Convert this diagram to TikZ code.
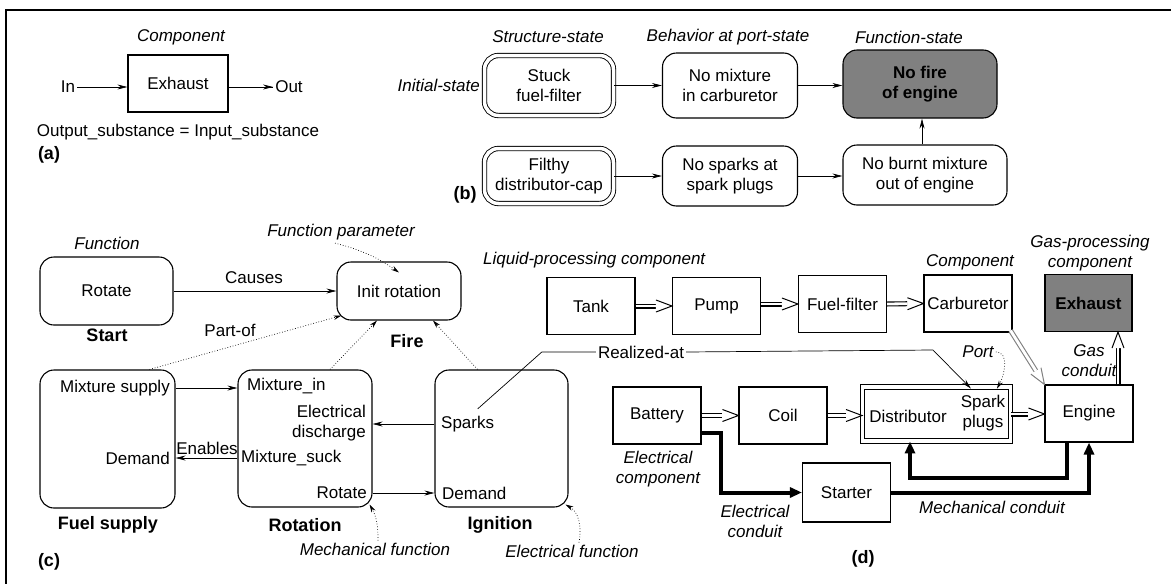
\documentclass[tikz,border=0pt]{standalone}
\usepackage{fontspec}
\setmainfont{Liberation Sans}
\usetikzlibrary{positioning,calc,arrows.meta}

\tikzset{box/.style={draw,line width=1.1pt,minimum width=88pt,minimum height=57pt,align=center}}
\tikzset{rbox/.style={draw,line width=1.1pt,rounded corners=14pt,align=center}}
\tikzset{dbox/.style={rbox,double,double distance=3.5pt,line width=0.9pt}}
\tikzset{dark/.style={fill=black!50,font=\bfseries}}
\tikzset{lbl/.style={font=\itshape}}
\tikzset{ttl/.style={font=\fontsize{18}{20}\selectfont\bfseries}}
\tikzset{flow/.style={-{Stealth[length=10pt,width=5pt]},line width=0.7pt}}
\tikzset{ptr/.style={dotted,line width=0.7pt,-{Stealth[length=8pt,width=4.5pt]}}}
\tikzset{mech/.style={line width=4pt,line join=miter,-{Triangle[length=12pt,width=10pt]}}}

% open double-shaft arrow between two points
\newcommand{\hollowarrow}[3][black]{%
  \coordinate (ha) at (#2);
  \coordinate (hb) at (#3);
  \coordinate (hc) at ($(hb)!16pt!(ha)$);
  \draw[#1,line width=1.1pt,double=white,double distance=2.8pt] (ha) -- (hc);
  \fill[white] ($(hc)!6pt!90:(hb)$) -- (hb) -- ($(hc)!6pt!-90:(hb)$) -- cycle;
  \draw[#1,line width=1pt] ($(hc)!6pt!90:(hb)$) -- (hb) -- ($(hc)!6pt!-90:(hb)$);}

\begin{document}
\fontsize{17}{20}\selectfont
\begin{tikzpicture}[x=1pt,y=-1pt,inner sep=2pt]
  \useasboundingbox (0,0) rectangle (1171,584);
  \draw[line width=1.2pt] (6,584) -- (6,10) -- (1171,10);

  % (a) component
  \node[box,minimum width=100pt] (ex) at (178,83.5) {Exhaust};
  \node[lbl] (excomp) at (181,37) {Component};
  \node (in) at (68,87) {In};
  \node (out) at (289,87) {Out};
  \draw[flow] (in.east) -- (in.east -| ex.west);
  \draw[line width=0.7pt] (ex.east |- out) -- (out.west);
  \draw[flow] ($(out.west)+(-12,0)$) -- (out.west);
  \node (eq) at (178,132) {Output\_substance = Input\_substance};
  \node[ttl] (taga) at (49,155) {(a)};

  % (b) states
  \node[dbox,minimum width=129pt,minimum height=60pt] (stuck) at (549,85.5) {Stuck\\fuel-filter};
  \node[rbox,minimum width=135pt,minimum height=65pt] (nomix) at (730,85.5) {No mixture\\in carburetor};
  \node[rbox,dark,minimum width=154pt,minimum height=68pt] (nofire) at (920,84) {No fire\\of engine};
  \node[dbox,minimum width=129pt,minimum height=55pt] (filthy) at (549,176) {Filthy\\distributor-cap};
  \node[rbox,minimum width=135pt,minimum height=60pt] (nospark) at (730,176) {No sparks at\\spark plugs};
  \node[rbox,minimum width=164pt,minimum height=60pt] (noburnt) at (925,175) {No burnt mixture\\out of engine};
  \node[lbl] (sstate) at (548,37) {Structure-state};
  \node[lbl] (bstate) at (728,37) {Behavior at port-state};
  \node[lbl] (fstate) at (909,37) {Function-state};
  \node[lbl,left=2pt of stuck] (istate) {Initial-state};
  \node[ttl] (tagb) at (465,195) {(b)};
  \draw[flow] (stuck) -- (nomix);
  \draw[flow] (nomix.east |- stuck) -- (nofire.west |- stuck);
  \draw[flow] (filthy) -- (nospark);
  \draw[flow] (nospark.east) -- (nospark.east -| noburnt.west);
  \draw[flow] ([xshift=-3pt]noburnt.north) -- ([xshift=2pt]nofire.south);

  % (c) functions
  \node[rbox,minimum width=133pt,minimum height=68pt] (start) at (106.5,291) {Rotate};
  \node[rbox,minimum width=124pt,minimum height=58pt] (init) at (399,291) {Init rotation};
  \node[rbox,minimum width=135pt,minimum height=138pt] (fuel) at (107.5,439) {};
  \node[rbox,minimum width=134pt,minimum height=137pt] (rotation) at (305,438.5) {};
  \node[rbox,minimum width=133pt,minimum height=137pt] (ignition) at (501.5,438.5) {};
  \node[lbl] (function) at (107,243) {Function};
  \node[ttl] (startlbl) at (107,335) {Start};
  \node[ttl] (firelbl) at (407,341) {Fire};
  \node[ttl] (fuellbl) at (108,525) {Fuel supply};
  \node[ttl] (rotlbl) at (305,525) {Rotation};
  \node[ttl] (ignlbl) at (500,525) {Ignition};
  \node[ttl] (tagc) at (49,562) {(c)};
  \node[lbl] (fparam) at (341,232) {Function parameter};
  \node[lbl] (mechfn) at (375,549) {Mechanical function};
  \node[lbl] (elecfn) at (572,551) {Electrical function};
  \node (causes) at (254,278) {Causes};
  \node (partof) at (230,330) {Part-of};
  % ports inside the boxes
  \node[anchor=east] (msupply) at (172,388) {Mixture supply};
  \node[anchor=east] (fdemand) at (172,458) {Demand};
  \node[anchor=west] (mixin) at (245,386) {Mixture\_in};
  \node[anchor=east,align=right] (edisch) at (368,423) {Electrical\\discharge};
  \node[anchor=west] (msuck) at (239,458) {Mixture\_suck};
  \node[anchor=east] (rrotate) at (369,493) {Rotate};
  \node[anchor=west] (sparks) at (439,424) {Sparks};
  \node[anchor=west] (idemand) at (440,493) {Demand};
  \node (enables) at (207,448) {Enables};
  \draw[flow] (start.east |- init) -- (init.west);
  \draw[flow] (msupply.east -| fuel.east) -- (msupply.east -| rotation.west);
  \draw[flow] (msuck.west -| rotation.west) -- (msuck.west -| fuel.east);
  \draw[flow] (sparks.west -| ignition.west) -- (sparks.west -| rotation.east);
  \draw[flow] (idemand.west -| rotation.east) -- (idemand.west -| ignition.west);
  \draw[ptr] ([xshift=42pt]fuel.north) -- ([shift={(5,-5)}]init.south west);
  \draw[ptr] ([xshift=25pt]rotation.north) -- ([xshift=-22pt]init.south);
  \draw[ptr] ([xshift=-24pt]ignition.north) -- ([xshift=34pt]init.south);
  \draw[ptr] ([shift={(-6,1)}]fparam.south) to[bend left=10] ([yshift=-11pt]init.north);
  \draw[ptr] ([xshift=3pt]mechfn.north) to[out=90,in=-60] ([shift={(-3,-3)}]rotation.south east);
  \draw[ptr] ([xshift=7pt]elecfn.north) to[out=80,in=-30] ([shift={(-3,-3)}]ignition.south east);

  % (d) components
  \node[box] (tank) at (591,306) {Tank};
  \node[box] (pump) at (716.5,306) {Pump};
  \node[box] (filter) at (842.5,304) {Fuel-filter};
  \node[box] (carb) at (968,303.5) {Carburetor};
  \node[box,dark,minimum width=87pt] (exhaust) at (1088.5,303) {Exhaust};
  \node[box] (engine) at (1089,413.5) {Engine};
  \node[box] (battery) at (657,415.5) {Battery};
  \node[box] (coil) at (783,415.5) {Coil};
  \node[draw,line width=0.9pt,double,double distance=3.5pt,minimum width=148pt,minimum height=54pt] (distrib) at (936.5,414) {};
  \node[box,minimum height=59pt] (starter) at (846.5,492.5) {Starter};
  \node (distlbl) at (908,416) {Distributor};
  \node[align=center] (plugs) at (983,413) {Spark\\plugs};
  \node[lbl,anchor=west] (liquid) at (481,260) {Liquid-processing component};
  \node[lbl] (carbcomp) at (970,262) {Component};
  \node[lbl,align=center] (gascomp) at (1090,253) {Gas-processing\\component};
  \node[lbl,align=center] (gascond) at (1089,361) {Gas\\conduit};
  \node[lbl,align=center] (eleccomp) at (658,469) {Electrical\\component};
  \node[lbl,align=center] (eleccond) at (755,521) {Electrical\\conduit};
  \node[lbl] (mechcond) at (992,507) {Mechanical conduit};
  \node[lbl] (port) at (978,352) {Port};
  \node (realized) at (641,352) {Realized-at};
  \node[ttl] (tagd) at (863,559) {(d)};
  \hollowarrow{tank.east}{pump.west}
  \hollowarrow{pump.east |- filter}{filter.west}
  \hollowarrow{filter.east}{carb.west}
  \hollowarrow{battery.east}{coil.west}
  \hollowarrow{coil.east}{coil.east -| distrib.west}
  \hollowarrow{distrib.east}{distrib.east -| engine.west}
  \hollowarrow{[xshift=29pt]engine.north}{[xshift=29.5pt]exhaust.south}
  \hollowarrow[black!50]{[shift={(-2,-2)}]carb.south east}{engine.north west}
  \draw[mech] ([yshift=-17pt]battery.east) -- ++(19,0) |- (starter.west);
  \draw[mech] ([xshift=-22pt]engine.south) -- ++(0,35) -| ([xshift=-26.5pt]distrib.south);
  \draw[mech] (starter.east) -| (engine.south);
  \draw[line width=0.7pt] (realized.west) -- ++(-54,0) -- ([shift={(10,-5)}]sparks.north);
  \draw[flow] (realized.east) -- (933,350) -- ([shift={(-40,2)}]distrib.north east);
  \draw[ptr] (port.east) to[out=0,in=60] ([shift={(-14,2)}]distrib.north east);
\end{tikzpicture}
\end{document}
